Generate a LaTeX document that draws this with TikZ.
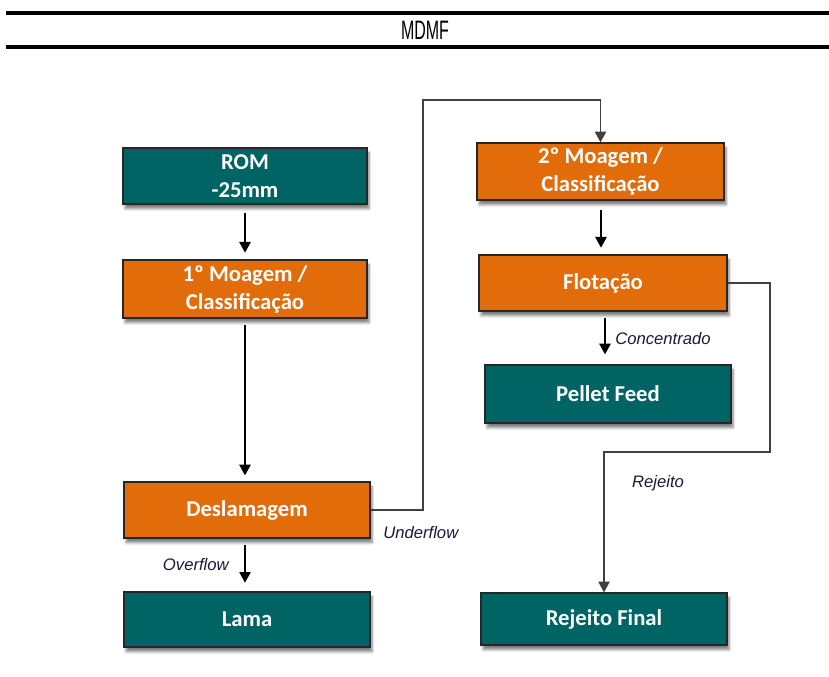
\documentclass[tikz,border=0pt]{standalone}
\usepackage{fontspec}
\setmainfont{Carlito}
\newfontfamily\lab{Liberation Sans}
\usetikzlibrary{arrows.meta,shadows.blur}
\definecolor{tealbox}{RGB}{0,100,100}
\definecolor{orangebox}{RGB}{227,108,10}
\definecolor{labcol}{RGB}{25,25,60}
\tikzset{
  basebox/.style={draw=black!85, line width=1pt, inner sep=0pt, align=center,
    text=white, font=\fontsize{17}{21}\selectfont\bfseries,
    blur shadow={shadow xshift=1.5pt, shadow yshift=-3.5pt, shadow blur steps=6, shadow opacity=50}},
  tbox/.style={basebox, fill=tealbox},
  obox/.style={basebox, fill=orangebox},
  arr/.style={line width=1.2pt, -{Triangle[width=8.5pt,length=8pt]}},
  conn/.style={draw=black!75, line width=0.9pt, -{Triangle[width=8.5pt,length=8pt]}},
  lbl/.style={font=\lab\itshape\fontsize{12.5}{14}\selectfont, text=labcol, inner sep=0pt}
}
\begin{document}
\begin{tikzpicture}[x=0.75pt,y=-0.75pt]
\useasboundingbox (0,0) rectangle (829,677);
% title bars
\coordinate (t1a) at (6,13); \coordinate (t1b) at (829,13);
\coordinate (t2a) at (6,47); \coordinate (t2b) at (829,47);
\draw[line width=2.3pt] (t1a) -- (t1b);
\draw[line width=2.3pt] (t2a) -- (t2b);
\node[font=\lab\fontsize{20}{22}\selectfont, xscale=0.6, inner sep=0pt] (title) at (425,30) {MDMF};
% boxes
\node[tbox, minimum width=183pt, minimum height=42pt] (rom) at (245,176) {ROM\\-25mm};
\node[obox, minimum width=183pt, minimum height=43.5pt] (m1) at (245,289) {1º Moagem /\\Classificação};
\node[obox, minimum width=184.5pt, minimum height=42pt] (des) at (247,510) {Deslamagem};
\node[tbox, minimum width=184.5pt, minimum height=41.25pt] (lama) at (247,619.5) {Lama};
\node[obox, minimum width=185.25pt, minimum height=42.75pt] (m2) at (600.5,171.5) {2º Moagem /\\Classificação};
\node[obox, minimum width=186pt, minimum height=42pt] (flot) at (603,283) {Flotação};
\node[tbox, minimum width=184.5pt, minimum height=43.5pt] (pf) at (608,394) {Pellet Feed};
\node[tbox, minimum width=184.5pt, minimum height=39pt] (rf) at (604,619) {Rejeito Final};
% straight arrows
\draw[arr, shorten <=6pt, shorten >=5pt] (rom) -- (m1);
\draw[arr, shorten <=5pt, shorten >=4.5pt] (m1.south) -- (m1.south |- des.north);
\coordinate (dl) at (245,538);
\draw[arr, shorten <=5pt, shorten >=6.5pt] (dl) -- (dl |- lama.north);
\coordinate (fm) at (601,200);
\draw[arr, shorten <=7.5pt, shorten >=5pt] (fm) -- (fm |- flot.north);
\coordinate (fp) at (605,311);
\draw[arr, shorten <=5.5pt, shorten >=7.5pt] (fp) -- (fp |- pf.north);
% routed connectors
\coordinate (u1) at (423,100);
\draw[conn] (des.east) -| (u1) -| (m2.north);
\coordinate (r1) at (770,452);
\draw[conn] (flot.east) -| (r1) -| (rf.north);
% labels
\node[lbl, anchor=east] (ov) at (229,565) {Overflow};
\node[lbl, anchor=west] (un) at (383,533) {Underflow};
\node[lbl, anchor=west] (co) at (615,339) {Concentrado};
\node[lbl] (rj) at (658,483) {Rejeito};
\end{tikzpicture}
\end{document}
